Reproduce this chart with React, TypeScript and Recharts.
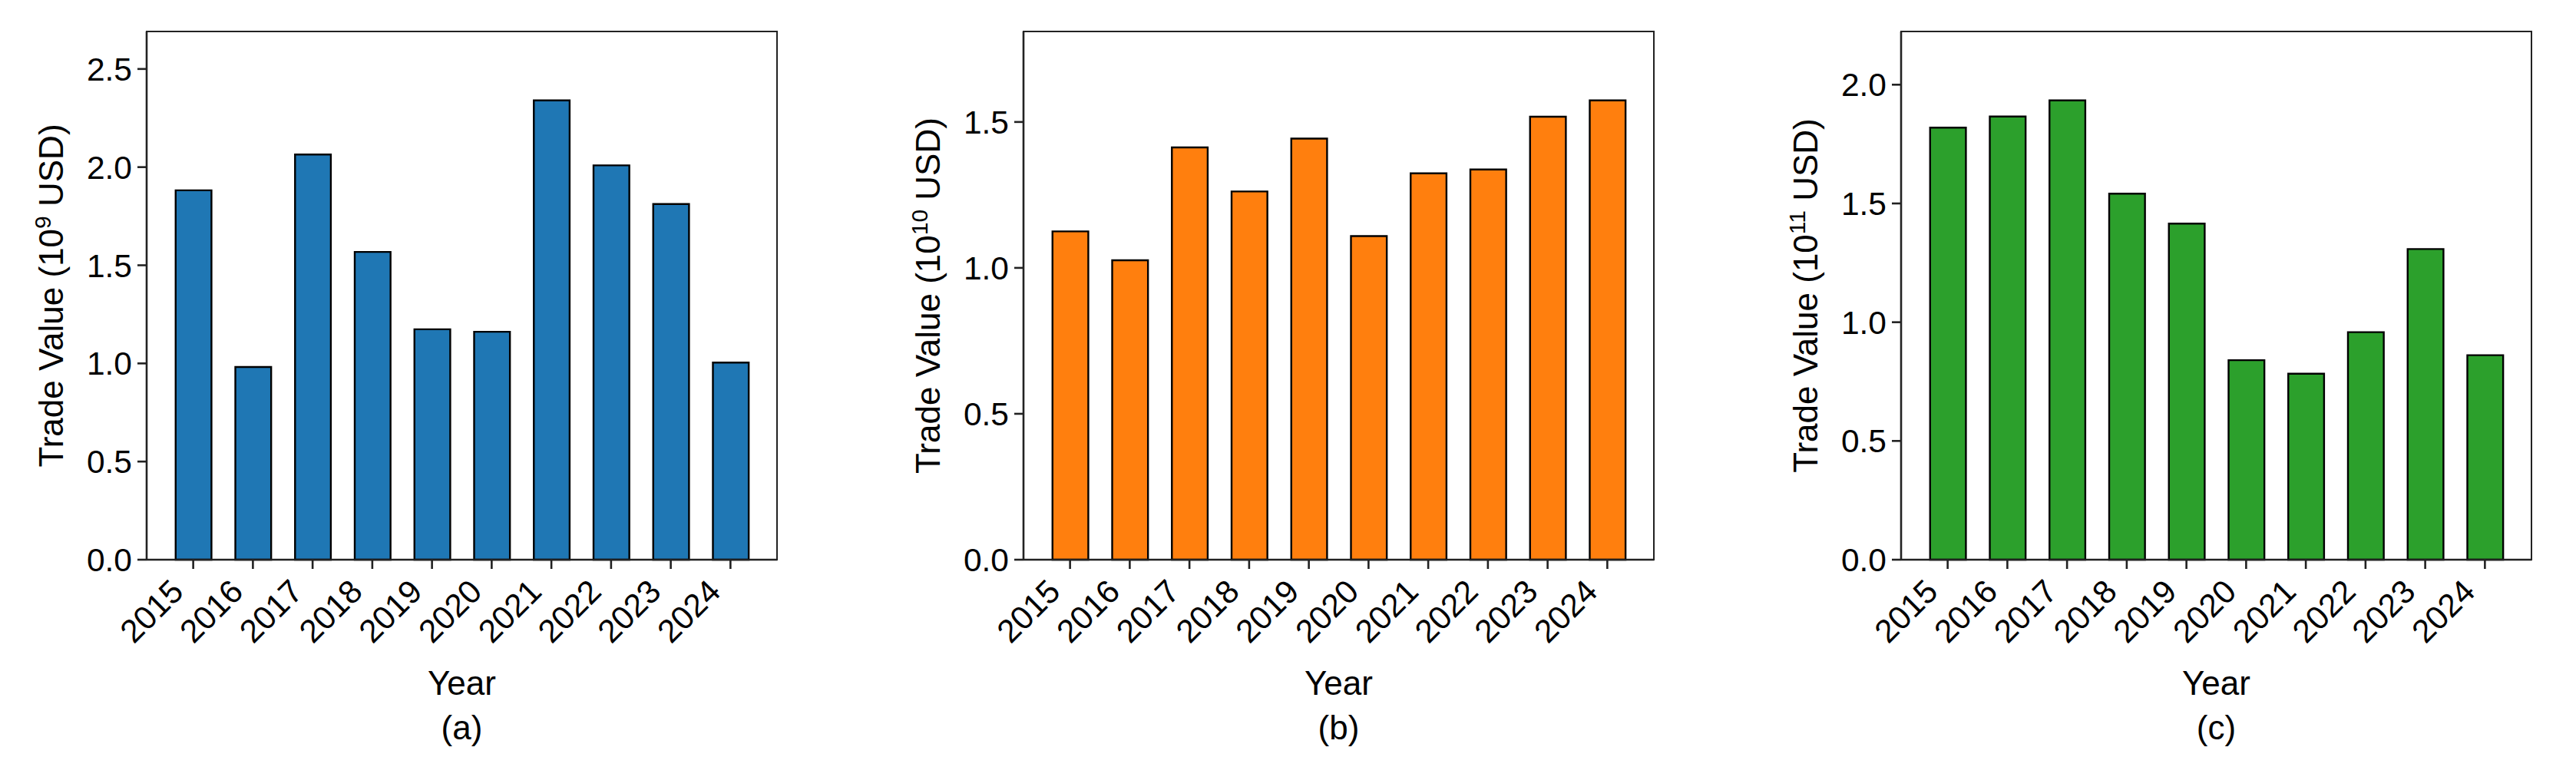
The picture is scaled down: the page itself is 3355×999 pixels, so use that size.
import { BarChart, Bar, XAxis, YAxis } from "recharts";

const YEARS = ["2015", "2016", "2017", "2018", "2019", "2020", "2021", "2022", "2023", "2024"];

const VALUES_A = [1.882, 0.982, 2.064, 1.568, 1.174, 1.161, 2.34, 2.009, 1.812, 1.004];
const VALUES_B = [1.125, 1.026, 1.413, 1.262, 1.443, 1.109, 1.324, 1.337, 1.518, 1.574];
const VALUES_C = [1.819, 1.866, 1.934, 1.541, 1.415, 0.84, 0.783, 0.958, 1.308, 0.861];

const TICKS_A = [0, 0.5, 1, 1.5, 2, 2.5];
const TICKS_B = [0, 0.5, 1, 1.5];
const TICKS_C = [0, 0.5, 1, 1.5, 2];

const EXPONENTS = ["9", "10", "11"];
const TAGS = ["(a)", "(b)", "(c)"];
const COLORS = ["#1f77b4", "#ff7f0e", "#2ca02c"];

const FONT = '"Liberation Sans", Arial, Helvetica, sans-serif';
const TICK_FS = 42.5;
const LABEL_FS = 44;
const AXIS = "#222";
const LW = 2.6;

// layout (page px)
const CHART_W = 1118;
const CHART_H = 999;
const PLOT_TOP = 41;
const PLOT_BOTTOM = 729;
const PLOT_W = 821;
const Y_AXIS_W = 80;
const X_AXIS_H = 100;

const XTick = ({ x, y, payload }: any) => (
  <text
    transform={`translate(${x - 10.5},${y + 30}) rotate(-45)`}
    textAnchor="end"
    fontSize={TICK_FS}
    fontFamily={FONT}
    fill="#000"
  >
    {payload.value}
  </text>
);

function Panel({
  values,
  ticks,
  exp,
  tag,
  color,
  chartLeft,
  plotLeft,
}: {
  values: number[];
  ticks: number[];
  exp: string;
  tag: string;
  color: string;
  chartLeft: number;
  plotLeft: number;
}) {
  const data = YEARS.map((year, i) => ({ year, value: values[i] }));
  const top = Math.max(...values) * 1.15;
  const ml = plotLeft - chartLeft - Y_AXIS_W;
  const mr = CHART_W - (plotLeft - chartLeft) - PLOT_W;
  const mb = CHART_H - PLOT_BOTTOM - X_AXIS_H;
  const band = PLOT_W / 10.56;
  const pad = (PLOT_W - band * 10) / 2;

  const yLabel = ({ viewBox }: any) => {
    const lx = viewBox.x + viewBox.width - 109;
    const cy = viewBox.y + viewBox.height / 2;
    return (
      <text
        transform={`translate(${lx},${cy}) rotate(-90)`}
        textAnchor="middle"
        fontSize={LABEL_FS}
        fontFamily={FONT}
        fill="#000"
      >
        Trade Value (10
        <tspan dy={-16} fontSize={30}>
          {exp}
        </tspan>
        <tspan dy={16}>{" USD)"}</tspan>
      </text>
    );
  };

  const xLabel = ({ viewBox }: any) => {
    const cx = viewBox.x + viewBox.width / 2;
    return (
      <g fontFamily={FONT} fontSize={LABEL_FS} fill="#000">
        <text x={cx} y={PLOT_BOTTOM + 176} textAnchor="middle">
          Year
        </text>
        <text x={cx} y={PLOT_BOTTOM + 234} textAnchor="middle">
          {tag}
        </text>
      </g>
    );
  };

  return (
    <div style={{ position: "absolute", left: chartLeft, top: 0, width: CHART_W, height: CHART_H }}>
      <BarChart
        width={CHART_W}
        height={CHART_H}
        data={data}
        margin={{ top: PLOT_TOP, right: mr, bottom: mb, left: ml }}
      >
        <XAxis
          dataKey="year"
          height={X_AXIS_H}
          padding={{ left: pad, right: pad }}
          interval={0}
          tick={<XTick />}
          tickSize={12}
          axisLine={{ stroke: AXIS, strokeWidth: LW }}
          tickLine={{ stroke: AXIS, strokeWidth: LW }}
          label={{ content: xLabel }}
        />
        <YAxis
          width={Y_AXIS_W}
          type="number"
          domain={[0, top]}
          ticks={ticks}
          interval={0}
          tickFormatter={(v: number) => v.toFixed(1)}
          tickSize={12}
          tickMargin={7}
          tick={{ fontSize: TICK_FS, fill: "#000", fontFamily: FONT }}
          axisLine={{ stroke: AXIS, strokeWidth: LW }}
          tickLine={{ stroke: AXIS, strokeWidth: LW }}
          label={{ content: yLabel }}
        />
        <Bar
          dataKey="value"
          fill={color}
          stroke="#000"
          strokeWidth={2.4}
          barSize={band * 0.6}
          isAnimationActive={false}
        />
      </BarChart>
      {/* top and right spines */}
      <div
        style={{
          position: "absolute",
          left: plotLeft - chartLeft - LW / 2,
          top: PLOT_TOP - LW / 2,
          width: PLOT_W + LW,
          height: PLOT_BOTTOM - PLOT_TOP + LW,
          borderTop: `${LW}px solid ${AXIS}`,
          borderRight: `${LW}px solid ${AXIS}`,
          boxSizing: "border-box",
          pointerEvents: "none",
        }}
      />
    </div>
  );
}

export default function App() {
  return (
    <div
      style={{
        position: "absolute",
        left: 0,
        top: 0,
        width: 3355,
        height: 999,
        background: "#fff",
        fontFamily: FONT,
      }}
    >
      <Panel values={VALUES_A} ticks={TICKS_A} exp={EXPONENTS[0]} tag={TAGS[0]} color={COLORS[0]} chartLeft={0} plotLeft={191} />
      <Panel values={VALUES_B} ticks={TICKS_B} exp={EXPONENTS[1]} tag={TAGS[1]} color={COLORS[1]} chartLeft={1118} plotLeft={1333} />
      <Panel values={VALUES_C} ticks={TICKS_C} exp={EXPONENTS[2]} tag={TAGS[2]} color={COLORS[2]} chartLeft={2237} plotLeft={2476} />
    </div>
  );
}
